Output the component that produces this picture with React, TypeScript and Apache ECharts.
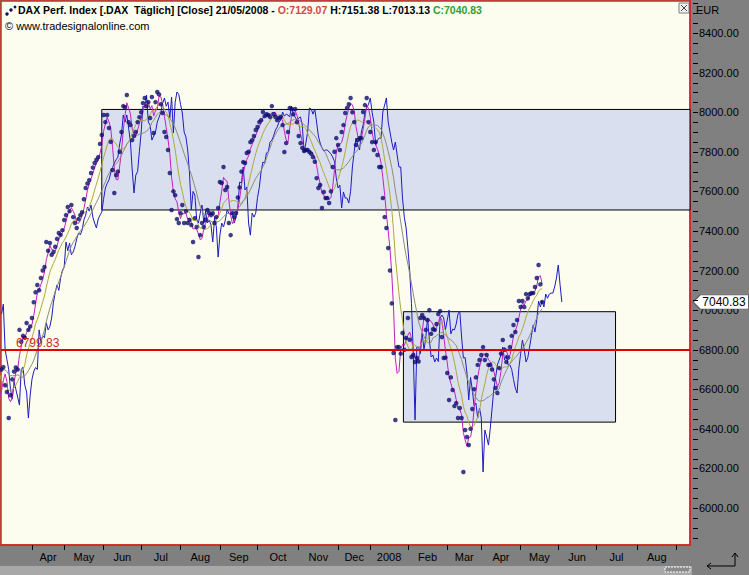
import React, { useEffect, useRef } from "react";
import * as echarts from "echarts";

// ---- data ----
// trading-bar index of each month start (Apr 2007 = 0) and month labels
const monthStarts = [0, 18, 40, 61, 83, 105, 126, 149, 171, 189, 210, 232, 251, 273, 294, 315, 338, 360];
const monthLabels = ["Apr", "May", "Jun", "Jul", "Aug", "Sep", "Oct", "Nov", "Dec", "2008", "Feb", "Mar", "Apr", "May", "Jun", "Jul", "Aug"];
const yLabelValues = [6000, 6200, 6400, 6600, 6800, 7000, 7200, 7400, 7600, 7800, 8000, 8200, 8400];
const yMinorTicks = [
  5850, 5900, 5950, 6000, 6050, 6100, 6150, 6200, 6250, 6300, 6350, 6400, 6450, 6500, 6550, 6600, 6650, 6700, 6750,
  6800, 6850, 6900, 6950, 7000, 7050, 7100, 7150, 7200, 7250, 7300, 7350, 7400, 7450, 7500, 7550, 7600, 7650, 7700,
  7750, 7800, 7850, 7900, 7950, 8000, 8050, 8100, 8150, 8200, 8250, 8300, 8350, 8400, 8450, 8500, 8550,
];

// first bar index of the close series
const firstBar = -28;
// DAX daily closes
const closes = [
  // pre-view (Feb/Mar 2007)
  6980, 7030, 6800, 6750, 6700, 6600, 6550, 6640, 6600, 6560, 6520,
  // Mar 2007
  6700, 6712, 6620, 6586, 6455, 6570, 6650, 6690, 6710, 6700, 6900, 6840, 6870, 6860, 6935, 6900, 6917,
  // Apr 2007
  6960, 7040, 7090, 7127, 7100, 7162, 7200, 7218, 7344, 7300, 7339,
  7280, 7293, 7320, 7360, 7390, 7380, 7404, 7455,
  // May 2007
  7480, 7521, 7500, 7531, 7470, 7440, 7415, 7460, 7480, 7495, 7560, 7617, 7640, 7657, 7693, 7720, 7743, 7760, 7773, 7840, 7885, 7986,
  // Jun 2007
  7950, 7986, 7920, 7850, 7708, 7592, 7682, 7700, 7800, 7900,
  8031, 8025, 8087, 7950, 7935, 7859, 7880, 7900, 7950, 7975,
  8000,
  // Jul 2007
  8046, 8072, 8030, 8051, 7971, 8077, 7895, 8051, 8102,
  8090, 8040, 7996, 7900, 7875, 7809, 7693, 7506, 7600, 7581,
  7460, 7440, 7490,
  // Aug 2007
  7531, 7440, 7500, 7440, 7455, 7430, 7344,
  7465, 7420, 7268, 7379, 7440, 7420, 7455, 7506, 7490, 7480,
  7490, 7440, 7470, 7516,
  // Sep 2007
  7647, 7642, 7723, 7607, 7622, 7440,
  7379, 7490, 7470, 7490, 7569, 7620, 7700, 7748, 7743, 7794,
  7800, 7849, 7859, 7880, 7910,
  // Oct 2007
  7925, 7950, 7960, 8001, 7980,
  7990, 7986, 7976, 8031, 7990, 7976, 7960, 7970, 7976, 7935,
  7799, 7844, 7900, 8021, 8016, 7990, 8016, 7950,
  // Nov 2007
  7880, 7844,
  7820, 7804, 7809, 7809, 7799, 7790, 7773, 7750, 7667, 7617,
  7632, 7516, 7597, 7566, 7566, 7541, 7600, 7723, 7800, 7869,
  7834,
  // Dec 2007
  7809, 7900, 7935, 7996, 8021, 8040, 8072, 8000, 7950,
  7834, 7859, 7870, 7869, 8001, 8036, 8072, 7950,
  // Jan 2008
  7900, 7849,
  7809, 7849, 7784, 7723, 7723, 7566, 7470, 7415, 7314, 7200,
  7034, 6783, 6445, 6813, 6813, 6780, 6884, 6800, 6859,
  // Feb 2008
  6960,
  6850, 6763, 6773, 6738, 6758, 6740, 6960, 6975, 6960, 6900,
  6950, 7000, 6880, 6904, 6900, 6930, 6980, 6995, 6864, 6758,
  6760,
  // Mar 2008
  6682, 6546, 6660, 6596, 6515, 6530, 6455, 6505, 6455,
  6182, 6394, 6359, 6318, 6400, 6500, 6600, 6660, 6723, 6748,
  // Apr 2008
  6773, 6813, 6748, 6773, 6723, 6723, 6700, 6650, 6606, 6581,
  6707, 6780, 6849, 6800, 6738, 6760, 6813, 6870, 6925, 6889,
  6950,
  // May 2008
  7046, 7016, 7046, 7016, 7081, 7060, 7081, 7086, 7086,
  7117, 7162, 7228, 7130, 7040.83,
];
const displacement = 11; // the thin blue line is the close displaced 11 bars forward
const maPeriods = [3, 10, 21];
const levelValue = 6799.83;
const lastClose = 7040.83;
// boxes: [startBar, endBar, top, bottom]  (endBar null = to the right edge)
const boxStarts = [39, 207.5];
const boxEnds = [null, 326];
const boxTops = [8014, 6992];
const boxBottoms = [7506, 6434];

const xMin = -17.3;
const xMax = 367.6;
const yMin = 5813;
const yMax = 8562;

function sma(values: number[], n: number): number[] {
  return values.map((_, k) => {
    const s = Math.max(0, k - n + 1);
    let sum = 0;
    for (let j = s; j <= k; j++) sum += values[j];
    return sum / (k - s + 1);
  });
}

const FONT = "'Liberation Sans', Arial, sans-serif";
const BORDER = "#d02828";

export default function App() {
  const ref = useRef<HTMLDivElement>(null);

  useEffect(() => {
    if (!ref.current) return;
    const chart = echarts.init(ref.current, null, { renderer: "svg" });

    const monthMids = monthStarts.slice(0, -1).map((m, k) => (m + monthStarts[k + 1]) / 2);
    const closePts = closes.map((c, k) => [firstBar + k, c]);
    const blueLine = closes.map((c, k) => [firstBar + k + displacement, c]);
    const maColors = ["#c020c0", "#b0a838", "#8c8c74"];
    const maSeries = maPeriods.map((p, n) => ({
      type: "line",
      data: sma(closes, p).map((v, k) => [firstBar + k, v]),
      symbol: "none",
      lineStyle: { color: maColors[n], width: 1 },
      z: 3,
      silent: true,
    }));

    const boxData = boxStarts.map((s, k) => [
      { coord: [s, boxTops[k]] },
      { coord: [boxEnds[k] ?? xMax, boxBottoms[k]] },
    ]);

    const option: any = {
      animation: false,
      backgroundColor: "#808080",
      textStyle: { fontFamily: FONT },
      title: {
        left: 18,
        top: 4,
        padding: 0,
        text:
          "{b|DAX Perf. Index [.DAX  Täglich] [Close] 21/05/2008 - }{r|O:7129.07}{b| H:7151.38 L:7013.13 }{g|C:7040.83}",
        textStyle: {
          rich: {
            b: { color: "#000", fontSize: 10.5, fontFamily: FONT },
            r: { color: "#d04848", fontSize: 10.5, fontFamily: FONT },
            g: { color: "#30a030", fontSize: 10.5, fontFamily: FONT },
          },
        },
      },
      grid: {
        left: 1,
        top: 1,
        right: 59,
        bottom: 30,
        show: true,
        backgroundColor: "#fcfcef",
        borderColor: BORDER,
        borderWidth: 1.5,
      },
      xAxis: {
        type: "value",
        min: xMin,
        max: xMax,
        axisLine: { show: true, onZero: false, lineStyle: { color: BORDER, width: 1.5 } },
        splitLine: { show: false },
        axisTick: {
          show: true,
          inside: false,
          customValues: monthStarts.filter((m) => m < xMax),
          length: 5,
          lineStyle: { color: "#000", width: 1 },
        },
        axisLabel: {
          customValues: monthMids,
          margin: 6,
          color: "#000",
          fontSize: 11,
          fontFamily: FONT,
          formatter: (v: number) => {
            const k = monthMids.findIndex((m) => Math.abs(m - v) < 0.01);
            return k >= 0 ? monthLabels[k] : "";
          },
        },
      },
      yAxis: {
        type: "value",
        position: "right",
        min: yMin,
        max: yMax,
        axisLine: { show: true, onZero: false, lineStyle: { color: BORDER, width: 1.5 } },
        splitLine: { show: false },
        axisTick: { show: false },
        axisLabel: {
          customValues: yLabelValues,
          margin: 9,
          color: "#000",
          fontSize: 11,
          fontFamily: FONT,
          formatter: (v: number) => v.toFixed(2),
        },
      },
      series: [
        {
          type: "line",
          data: blueLine,
          symbol: "none",
          lineStyle: { color: "#1c1cc0", width: 1 },
          z: 2,
          silent: true,
          markArea: {
            silent: true,
            itemStyle: { color: "#dadff0", borderColor: "#000", borderWidth: 1 },
            data: boxData,
          },
        },
        ...maSeries,
        {
          type: "scatter",
          data: closePts,
          symbol: "circle",
          symbolSize: 4.5,
          itemStyle: { color: "#0c0c70" },
          z: 4,
          silent: true,
          markLine: {
            silent: true,
            symbol: ["none", "none"],
            lineStyle: { color: "#e00000", width: 2, type: "solid" },
            label: {
              show: true,
              position: "insideStartTop",
              distance: [15, 1],
              formatter: levelValue.toFixed(2),
              color: BORDER,
              fontSize: 12,
              fontFamily: FONT,
            },
            data: [{ yAxis: levelValue }],
          },
          markPoint: {
            silent: true,
            symbol: "path://M0,6 L7,0 L56,0 L56,12 L7,12 Z",
            symbolSize: [56, 14],
            symbolKeepAspect: false,
            symbolOffset: [31, 0],
            itemStyle: { color: "#ffffff", borderColor: "#606060", borderWidth: 1 },
            label: {
              show: true,
              position: "inside",
              offset: [3, 0],
              formatter: lastClose.toFixed(2),
              color: "#000",
              fontSize: 12,
              fontFamily: FONT,
            },
            data: [{ coord: [xMax, lastClose] }],
          },
        },
        {
          // right-axis tick marks every 50 points
          type: "custom",
          silent: true,
          clip: false,
          zlevel: 1,
          z: 10,
          data: yMinorTicks.map((v) => [xMax, v]),
          encode: { x: 0, y: 1 },
          renderItem: (params: any, api: any) => {
            const p = api.coord([api.value(0), api.value(1)]);
            return {
              type: "rect",
              shape: { x: p[0] + 3, y: Math.round(p[1]), width: 5, height: 1 },
              style: { fill: "#000000" },
            };
          },
        },
      ],
      graphic: [
        { type: "text", left: 696, top: 4, style: { text: "EUR", fill: "#000", font: `11px ${FONT}` } },
        { type: "text", left: 5, top: 20, style: { text: "© www.tradesignalonline.com", fill: "#000", font: `11px ${FONT}` } },
        { type: "circle", shape: { cx: 7, cy: 14, r: 1.7 }, style: { fill: "#101060" } },
        { type: "circle", shape: { cx: 11, cy: 10, r: 1.7 }, style: { fill: "#101060" } },
        { type: "circle", shape: { cx: 15, cy: 7, r: 1.4 }, style: { fill: "#101060" } },
        { type: "rect", shape: { x: 679, y: 3, width: 10, height: 10 }, style: { fill: "#f0f0f0", stroke: "#808080" } },
        { type: "line", shape: { x1: 681, y1: 5, x2: 687, y2: 11 }, style: { stroke: "#404040" } },
        { type: "line", shape: { x1: 687, y1: 5, x2: 681, y2: 11 }, style: { stroke: "#404040" } },
        { type: "rect", shape: { x: 0, y: 566, width: 692, height: 9 }, style: { fill: "#a8a8a8" } },
        { type: "rect", shape: { x: 665, y: 567, width: 25, height: 5 }, style: { fill: "#8a8a8a", stroke: "#ffffff", lineDash: [2, 1] } },
        { type: "polyline", shape: { points: [[707, 566], [735, 566], [735, 553]] }, style: { stroke: "#000", fill: null, lineWidth: 1 } },
        { type: "polyline", shape: { points: [[711, 563], [707, 566], [711, 569]] }, style: { stroke: "#000", fill: null, lineWidth: 1 } },
        { type: "polyline", shape: { points: [[732, 557], [735, 553], [738, 557]] }, style: { stroke: "#000", fill: null, lineWidth: 1 } },
      ],
    };

    chart.setOption(option);
    return () => chart.dispose();
  }, []);

  return <div ref={ref} style={{ position: "fixed", left: 0, top: 0, width: 749, height: 575 }} />;
}
